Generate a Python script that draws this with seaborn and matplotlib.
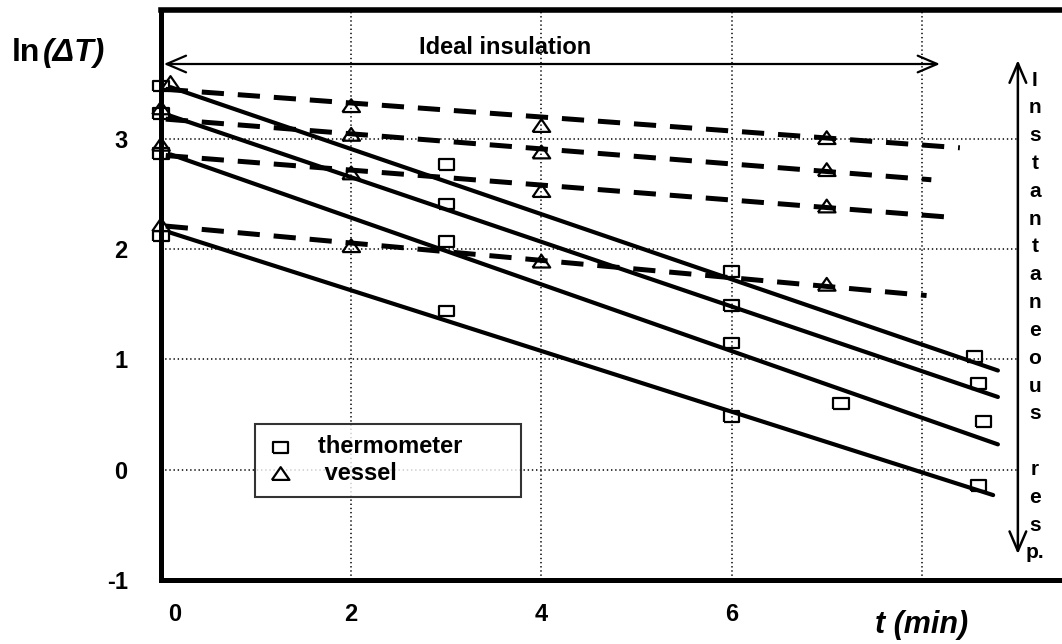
import matplotlib
matplotlib.use("Agg")
import matplotlib.pyplot as plt
import matplotlib.transforms as mtransforms
import pandas as pd
import seaborn as sns

# thermometer readings (squares)
therm_x = [0, 0, 0, 0, 3, 3, 3, 3, 6, 6, 6, 6, 7.15, 8.55, 8.6, 8.65, 8.6]
therm_y = [3.48, 3.23, 2.87, 2.12, 2.77, 2.41, 2.07, 1.44, 1.80, 1.49, 1.15, 0.48, 0.60, 1.03, 0.78, 0.44, -0.14]

# vessel readings (triangles)
vessel_x = [0.1, 0, 0, 0, 2, 2, 2, 2, 4, 4, 4, 4, 7, 7, 7, 7]
vessel_y = [3.51, 3.28, 2.95, 2.22, 3.30, 3.04, 2.69, 2.03, 3.12, 2.88, 2.53, 1.89, 3.01, 2.72, 2.39, 1.68]

# fitted lines: start / end points
solid_x0 = [0.1, 0.1, 0.1, 0.1]
solid_y0 = [3.47, 3.21, 2.86, 2.15]
solid_x1 = [8.8, 8.8, 8.8, 8.75]
solid_y1 = [0.90, 0.66, 0.23, -0.23]

dash_x0 = [0.05, 0.05, 0.05, 0.05]
dash_y0 = [3.45, 3.18, 2.85, 2.21]
dash_x1 = [8.4, 8.1, 8.3, 8.05]
dash_y1 = [2.92, 2.63, 2.29, 1.58]

x_ticks = [0, 2, 4, 6, 8]
x_labels = ["0", "2", "4", "6", ""]
y_ticks = [-1, 0, 1, 2, 3, 4]
y_labels = ["-1", "0", "1", "2", "3", ""]

side_text = list("Instantaneous") + ["", "r", "e", "s", "p."]

sns.set_style("white")
plt.rcParams["font.family"] = ["Liberation Sans", "DejaVu Sans"]
plt.rcParams["font.weight"] = "bold"
plt.rcParams["text.color"] = "black"
plt.rcParams["xtick.color"] = "black"
plt.rcParams["ytick.color"] = "black"
plt.rcParams["lines.scale_dashes"] = False

fig, ax = plt.subplots(figsize=(10.62, 6.44), dpi=100)
fig.subplots_adjust(left=0.1516, right=1.0, bottom=0.0994, top=0.9845)

# grid (dotted)
for gx in [2, 4, 6, 8]:
    ax.axvline(gx, color="k", lw=1.1, ls=(0, (1, 2)), zorder=1)
ax.hlines([0, 1, 2, 3], 0, 9.0, color="k", lw=1.1, ls=(0, (1, 2)), zorder=1)

# fitted lines
for i in range(4):
    sns.lineplot(x=[solid_x0[i], solid_x1[i]], y=[solid_y0[i], solid_y1[i]],
                 color="k", lw=3.0, ax=ax, zorder=2)
    sns.lineplot(x=[dash_x0[i], dash_x1[i]], y=[dash_y0[i], dash_y1[i]],
                 color="k", lw=3.6, ls=(0, (16, 10)), ax=ax, zorder=2)

rect = [(-1.4, -1), (1.4, -1), (1.4, 1), (-1.4, 1), (-1.4, -1)]
tri = [(-1, -0.7), (1, -0.7), (0, 0.75), (-1, -0.7)]

df_t = pd.DataFrame({"t": therm_x, "lnT": therm_y})
df_v = pd.DataFrame({"t": vessel_x, "lnT": vessel_y})
sns.scatterplot(data=df_t, x="t", y="lnT", marker=rect, s=120, facecolor="none",
                edgecolor="k", linewidth=1.6, ax=ax, zorder=3, clip_on=False,
                label="thermometer       ")
sns.scatterplot(data=df_v, x="t", y="lnT", marker=tri, s=160, facecolor="none",
                edgecolor="k", linewidth=1.6, ax=ax, zorder=3, clip_on=False,
                label=" vessel")

ax.set_xlim(0, 9.474)
ax.set_ylim(-1, 4.17)
ax.set_xticks(x_ticks)
ax.set_xticklabels(x_labels)
ax.set_yticks(y_ticks)
ax.set_yticklabels(y_labels)
ax.tick_params(axis="y", direction="out", length=12, width=1.6, pad=12, labelsize=17)
ax.tick_params(axis="x", direction="inout", length=9, width=2, pad=12, labelsize=17)
ax.set_xlabel("")
ax.set_ylabel("")
# the "0" label sits a little right of its tick
shift = mtransforms.ScaledTranslation(14 / 100, 0, fig.dpi_scale_trans)
first = ax.get_xticklabels()[0]
first.set_transform(first.get_transform() + shift)

for side in ["left", "bottom", "top"]:
    ax.spines[side].set_color("k")
ax.spines["left"].set_linewidth(3.6)
ax.spines["bottom"].set_linewidth(3.6)
ax.spines["top"].set_linewidth(4.0)
ax.spines["right"].set_visible(False)

# arrows and notes
ax.annotate("", xy=(0.0, 3.68), xytext=(8.22, 3.68),
            arrowprops=dict(arrowstyle="<->,head_length=1.4,head_width=0.6", color="k", lw=1.6))
ax.text(3.62, 3.83, "Ideal insulation", ha="center", va="center", fontsize=17, fontweight="bold")
ax.annotate("", xy=(9.01, -0.79), xytext=(9.01, 3.74),
            arrowprops=dict(arrowstyle="<->,head_length=1.4,head_width=0.6", color="k", lw=1.8))
for i, ch in enumerate(side_text):
    ax.text(9.19, 0.877 - i * 0.0488, ch, transform=ax.get_xaxis_transform(),
            ha="center", va="center", fontsize=15, fontweight="bold")

ax.text(8.0, -0.079, "t (min)", transform=ax.get_xaxis_transform(), ha="center", va="center",
        fontsize=22, fontweight="bold", fontstyle="italic")
fig.text(0.0113, 0.917, "ln", ha="left", va="center", fontsize=23, fontweight="bold")
fig.text(0.040, 0.917, "(\u0394T)", ha="left", va="center", fontsize=23, fontweight="bold",
         fontstyle="italic")

leg = ax.legend(loc="lower left", bbox_to_anchor=(0.104, 0.146), borderaxespad=0,
                fontsize=17, frameon=True, fancybox=False, borderpad=0.5,
                handlelength=1.2, handletextpad=1.0, labelspacing=0.15)
leg.get_frame().set_edgecolor("k")
leg.get_frame().set_linewidth(1.5)
for t in leg.get_texts():
    t.set_fontweight("bold")
    t.set_color("black")

fig.savefig("out.png", dpi=100)
